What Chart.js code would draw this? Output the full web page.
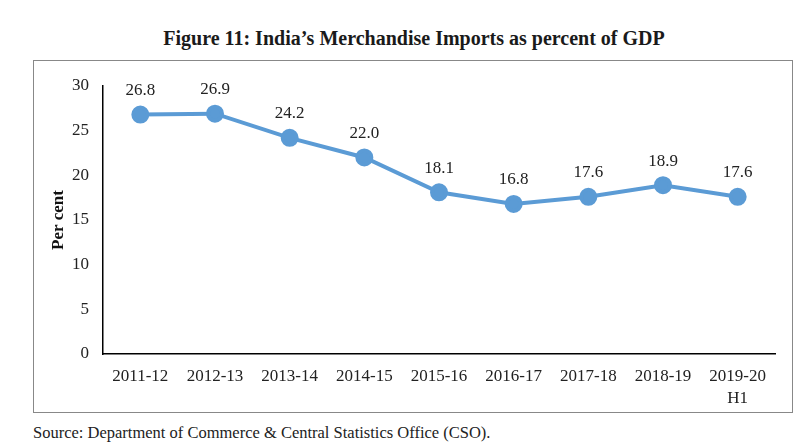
<!DOCTYPE html>
<html lang="en">
<head>
  <meta charset="UTF-8">
  <script src="https://cdn.jsdelivr.net/npm/chart.js"></script>
  <title>Figure 11</title>
  <style>
    body{ margin:0; width:812px; height:445px; background:#fff; font-family:"Liberation Serif", serif; position:relative; }
    #title{ position:absolute; left:0; width:828px; top:27px; text-align:center; font-weight:bold; font-size:20px; color:#1a1a1a; }
    #wrap{ position:absolute; left:33px; top:60px; width:758px; height:351px; border:1px solid #888; }
    #source{ position:absolute; left:33px; top:423px; font-size:16.5px; color:#222; }
  </style>
</head>
<body>
  <div id="title">Figure 11: India’s Merchandise Imports as percent of GDP</div>
  <div id="wrap"><canvas id="myChart" width="758" height="351"></canvas></div>
  <div id="source">Source: Department of Commerce &amp; Central Statistics Office (CSO).</div>
  <script>
    var years = ['2011-12', '2012-13', '2013-14', '2014-15', '2015-16', '2016-17', '2017-18', '2018-19', ['2019-20', 'H1']];
    var importsPct = [26.8, 26.9, 24.2, 22.0, 18.1, 16.8, 17.6, 18.9, 17.6];
    var yTicks = [0, 5, 10, 15, 20, 25, 30];

    // value labels above points
    var pointLabels = {
      id: 'pointLabels',
      afterDatasetsDraw: function(chart){
        var ctx = chart.ctx;
        var meta = chart.getDatasetMeta(0);
        ctx.save();
        ctx.font = '17px "Liberation Serif"';
        ctx.fillStyle = '#222';
        ctx.textAlign = 'center';
        ctx.textBaseline = 'middle';
        meta.data.forEach(function(pt, i){
          ctx.fillText(importsPct[i].toFixed(1), pt.x, pt.y - 24);
        });
        ctx.restore();
      }
    };

    new Chart(document.getElementById('myChart'), {
      type: 'line',
      data: {
        labels: years,
        datasets: [{
          data: importsPct,
          borderColor: '#5B9BD5',
          backgroundColor: '#5B9BD5',
          borderWidth: 4,
          pointRadius: 7,
          pointHoverRadius: 7,
          tension: 0
        }]
      },
      options: {
        responsive: false,
        animation: false,
        layout: { padding: { top: 25, right: 17, left: 0, bottom: 0 } },
        plugins: { legend: { display: false }, tooltip: { enabled: false } },
        scales: {
          x: {
            offset: true,
            grid: { display: false, drawTicks: false },
            border: { display: true, color: '#000', width: 1.5 },
            ticks: { color: '#222', font: { family: 'Liberation Serif', size: 17, lineHeight: 1.3 }, padding: 11, maxRotation: 0, autoSkip: false },
            afterFit: function(s){ s.height = 58; }
          },
          y: {
            min: 0, max: 30,
            afterBuildTicks: function(s){ s.ticks = yTicks.map(function(v){ return { value: v }; }); },
            grid: { display: false, drawTicks: false },
            border: { display: true, color: '#000', width: 1.5 },
            ticks: { color: '#222', font: { family: 'Liberation Serif', size: 17 }, padding: 14 },
            title: { display: true, text: 'Per cent', color: '#111', font: { family: 'Liberation Serif', size: 17, weight: 'bold' }, padding: { top: 14, bottom: 0 } },
            afterFit: function(s){ s.width = 69; }
          }
        }
      },
      plugins: [pointLabels]
    });
  </script>
</body>
</html>
